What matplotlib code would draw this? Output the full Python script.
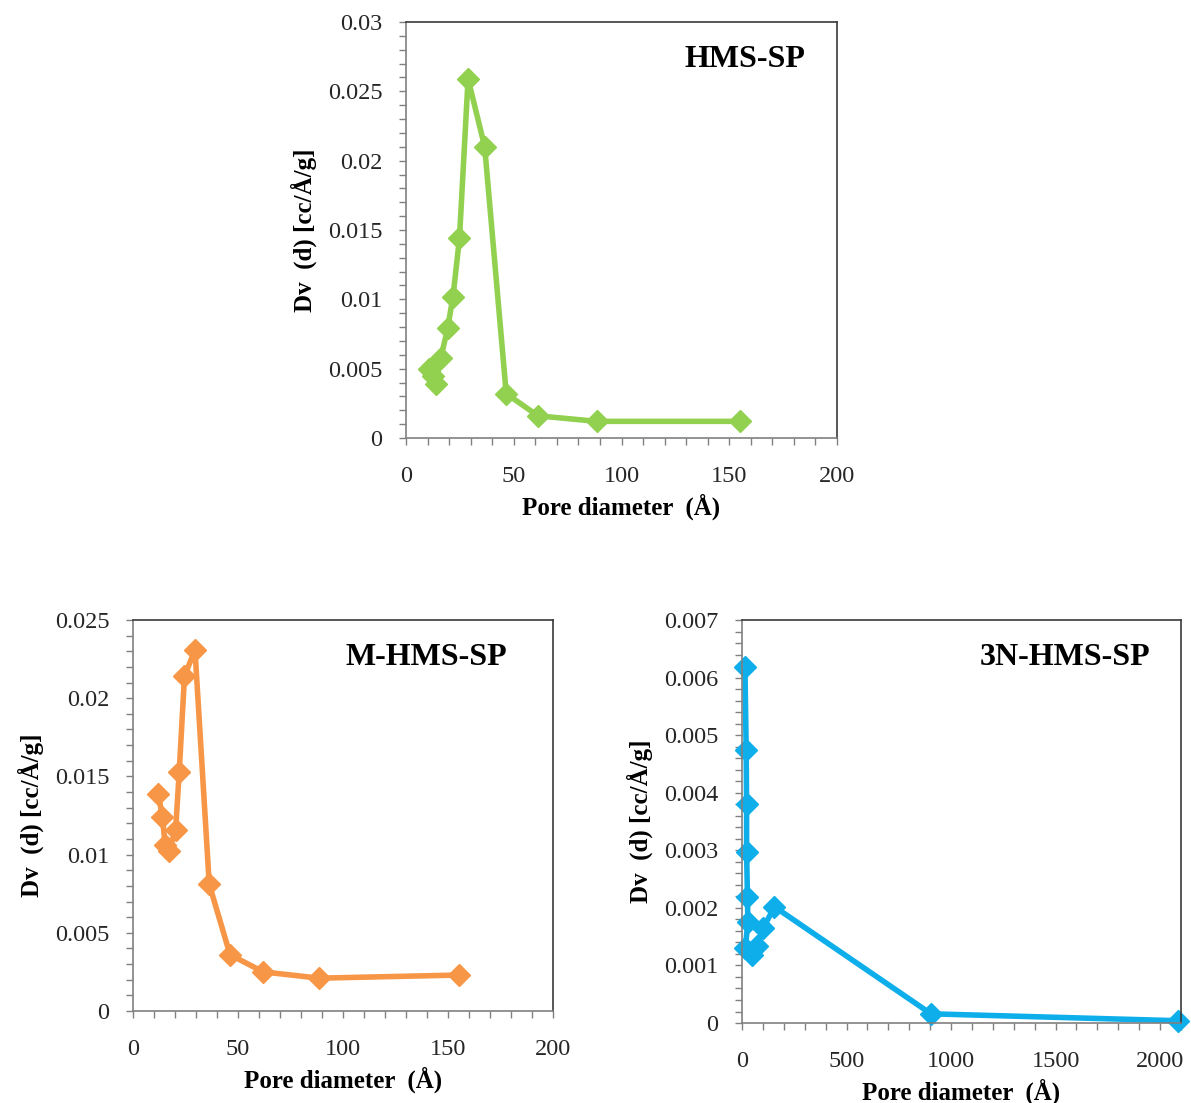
import matplotlib.pyplot as plt
from matplotlib.ticker import MultipleLocator

plt.rcParams['font.family'] = ['Liberation Serif', 'DejaVu Serif']

# HMS-SP
hms_x = [10.5, 12.5, 13.8, 16.2, 19.3, 21.8, 24.8, 28.8, 36.5, 46.5, 61.2, 88.5, 155]
hms_y = [0.0050, 0.0045, 0.0039, 0.0058, 0.0079, 0.0102, 0.0144, 0.0259, 0.0210, 0.0032, 0.0016, 0.0012, 0.0012]

# M-HMS-SP
mhms_x = [12.0, 14.0, 15.3, 17.1, 20.3, 22.0, 24.5, 29.5, 36.3, 46.2, 62.0, 88.6, 155.4]
mhms_y = [0.0139, 0.0124, 0.0106, 0.0102, 0.0116, 0.0153, 0.0214, 0.0231, 0.0081, 0.0036, 0.0025, 0.0021, 0.0023]

# 3N-HMS-SP
n3_x = [14, 20, 22, 22, 26, 28, 16, 46, 70, 102, 155, 904, 2085]
n3_y = [0.00619, 0.00474, 0.00380, 0.00297, 0.00219, 0.00176, 0.00130, 0.00119, 0.00133, 0.00165, 0.00202, 0.00016, 0.00004]

panels = [
    # name, x, y, color, rect, xlim, xmajor, xminor, ylim, ymajor, yminor, label pos
    ("HMS-SP", hms_x, hms_y, "#92D050", [0.3409, 0.6029, 0.3619, 0.3772],
     200, 50, 10, 0.03, 0.005, 0.001, (0.926, 0.909)),
    ("M-HMS-SP", mhms_x, mhms_y, "#F79646", [0.1117, 0.0834, 0.3526, 0.3545],
     200, 50, 10, 0.025, 0.005, 0.001, (0.890, 0.903)),
    ("3N-HMS-SP", n3_x, n3_y, "#0EAEEA", [0.6230, 0.0725, 0.3686, 0.3654],
     2100, 500, 100, 0.007, 0.001, 0.0002, (0.929, 0.908)),
]

fig = plt.figure(figsize=(11.91, 11.03), dpi=100)

for name, x, y, color, rect, xmax, xmaj, xmin, ymax, ymaj, ymin, lpos in panels:
    ax = fig.add_axes(rect)
    ax.plot(x, y, color=color, linewidth=4, marker='D', markersize=11,
            markeredgecolor=color, clip_on=False)
    ax.set_xlim(0, xmax)
    ax.set_ylim(0, ymax)
    ax.xaxis.set_major_locator(MultipleLocator(xmaj))
    ax.xaxis.set_minor_locator(MultipleLocator(xmin))
    ax.yaxis.set_major_locator(MultipleLocator(ymaj))
    ax.yaxis.set_minor_locator(MultipleLocator(ymin))
    ax.yaxis.set_major_formatter(plt.FuncFormatter(lambda v, p: '0' if v == 0 else ('%.4f' % v).rstrip('0')))
    ax.tick_params(which='both', direction='out', length=5, width=1, color='#808080',
                   labelsize=17.5, labelcolor='#262626')
    ax.tick_params(axis='x', pad=15)
    ax.tick_params(axis='y', pad=12)
    for s in ['left', 'bottom']:
        ax.spines[s].set_color('#808080')
        ax.spines[s].set_linewidth(1.2)
    for s in ['top', 'right']:
        ax.spines[s].set_color('#3a3a3a')
        ax.spines[s].set_linewidth(1.2)
    ax.set_xlabel("Pore diameter  (Å)", fontsize=18, fontweight='bold', labelpad=5)
    ax.set_ylabel("Dv  (d) [cc/Å/g]", fontsize=18, fontweight='bold', labelpad=8)
    ax.text(lpos[0], lpos[1], name, transform=ax.transAxes, ha='right', va='center',
            fontsize=23, fontweight='bold')

fig.savefig("out.png", dpi=100)
